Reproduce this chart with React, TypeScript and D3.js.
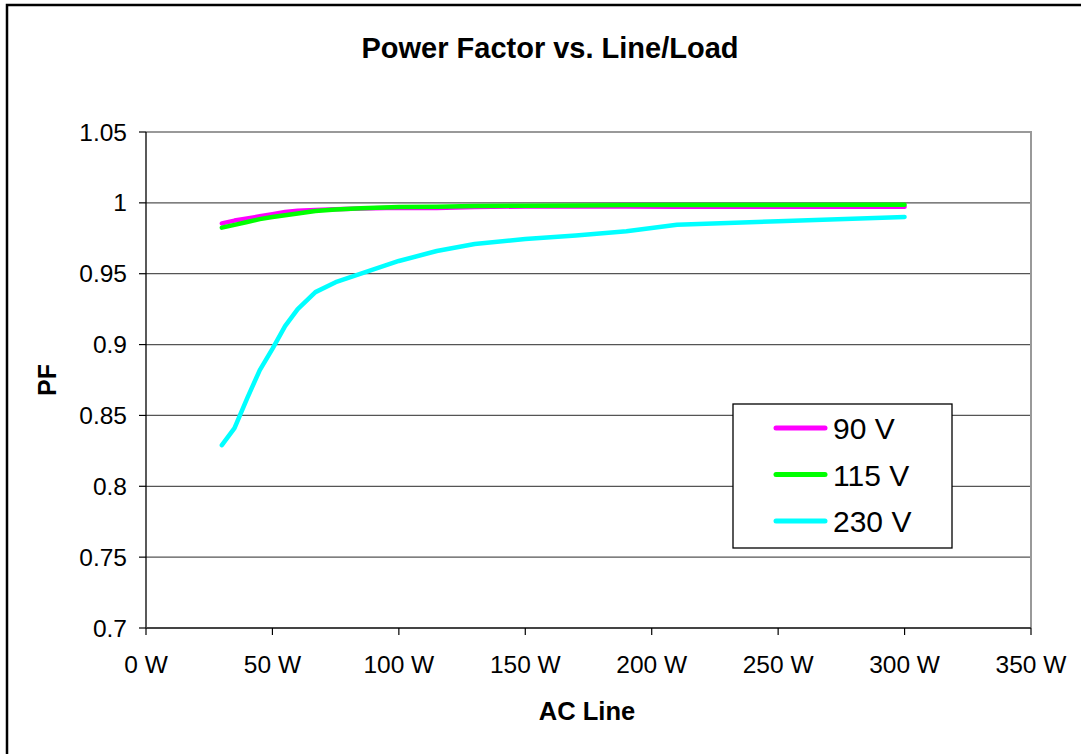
import * as d3 from 'd3'

const loadW = [30, 35, 40, 45, 50, 55, 60, 67, 75, 85, 100, 115, 130, 150, 170, 190, 210, 250, 300]
const pf90 = [0.9855, 0.9875, 0.989, 0.9905, 0.992, 0.9935, 0.9945, 0.995, 0.9955, 0.996, 0.9965, 0.9963, 0.997, 0.9975, 0.9975, 0.9974, 0.9973, 0.9973, 0.9973]
const pf115 = [0.9825, 0.9845, 0.9865, 0.9885, 0.99, 0.9913, 0.9925, 0.9942, 0.9953, 0.9962, 0.997, 0.9972, 0.9977, 0.998, 0.9982, 0.9984, 0.9985, 0.9985, 0.9986]
const pf230 = [0.829, 0.841, 0.862, 0.882, 0.897, 0.913, 0.925, 0.937, 0.944, 0.950, 0.959, 0.966, 0.971, 0.9745, 0.977, 0.980, 0.9845, 0.987, 0.990]

const seriesNames = ['90 V', '115 V', '230 V']
const seriesColors = ['#ff00ff', '#00ff00', '#00ffff']
const xTicks = [0, 50, 100, 150, 200, 250, 300, 350]
const yTicks = [0.7, 0.75, 0.8, 0.85, 0.9, 0.95, 1, 1.05]

const W = 1081
const H = 754
const plot = { left: 146, right: 1031, top: 132, bottom: 628 }
const font = '"Liberation Sans", Arial, sans-serif'

export default function App() {
  const x = d3.scaleLinear().domain([0, 350]).range([plot.left, plot.right])
  const y = d3.scaleLinear().domain([0.7, 1.05]).range([plot.bottom, plot.top])

  const series = [pf90, pf115, pf230]
  const line = d3.line<number>()
    .x((_, i) => x(loadW[i]))
    .y(d => y(d))

  const legend = { x: 733, y: 404, w: 219, h: 144 }

  return (
    <div style={{ position: 'absolute', left: 0, top: 0 }}>
      <svg width={W} height={H} style={{ display: 'block', fontFamily: font }}>
        <rect x={0} y={0} width={W} height={H} fill="#fff" />
        <rect x={7} y={5} width={W + 20} height={H + 20} fill="none" stroke="#000" strokeWidth={2.5} />

        <text x={550} y={58} textAnchor="middle" fontSize={29} fontWeight="bold">
          Power Factor vs. Line/Load
        </text>

        {/* gridlines */}
        {yTicks.slice(1, -1).map(t => (
          <line key={t} x1={plot.left} x2={plot.right} y1={y(t)} y2={y(t)} stroke="#555" strokeWidth={1.3} />
        ))}

        {/* plot frame top/right */}
        <path
          d={`M${plot.left},${plot.top}H${plot.right}V${plot.bottom}`}
          fill="none"
          stroke="#999"
          strokeWidth={2}
        />

        {/* y axis */}
        <line x1={plot.left} x2={plot.left} y1={plot.top} y2={plot.bottom} stroke="#000" strokeWidth={1.3} />
        {yTicks.map(t => (
          <g key={t}>
            <line x1={plot.left - 7} x2={plot.left} y1={y(t)} y2={y(t)} stroke="#000" strokeWidth={1.2} />
            <text x={127} y={y(t) + 8.5} textAnchor="end" fontSize={24.5}>
              {d3.format('')(t)}
            </text>
          </g>
        ))}

        {/* x axis */}
        <line x1={plot.left} x2={plot.right} y1={plot.bottom} y2={plot.bottom} stroke="#444" strokeWidth={2} />
        {xTicks.map(t => (
          <g key={t}>
            <line x1={x(t)} x2={x(t)} y1={plot.bottom} y2={plot.bottom + 7} stroke="#000" strokeWidth={1.2} />
            <text x={x(t)} y={673} textAnchor="middle" fontSize={24.5}>
              {`${t} W`}
            </text>
          </g>
        ))}

        {/* series */}
        {series.map((s, i) => (
          <path
            key={seriesNames[i]}
            d={line(s) ?? ''}
            fill="none"
            stroke={seriesColors[i]}
            strokeWidth={4.5}
            strokeLinecap="round"
            strokeLinejoin="round"
          />
        ))}

        <text x={587} y={720} textAnchor="middle" fontSize={25.5} fontWeight="bold">
          AC Line
        </text>
        <text
          transform="translate(56,380) rotate(-90)"
          textAnchor="middle"
          fontSize={25}
          fontWeight="bold"
        >
          PF
        </text>

        {/* legend */}
        <rect x={legend.x} y={legend.y} width={legend.w} height={legend.h} fill="#fff" stroke="#000" strokeWidth={1.3} />
        {seriesNames.map((n, i) => {
          const ly = 428 + i * 46.5
          return (
            <g key={n}>
              <line x1={776} x2={825} y1={ly} y2={ly} stroke={seriesColors[i]} strokeWidth={5} strokeLinecap="round" />
              <text x={833} y={ly + 11} fontSize={30}>
                {n}
              </text>
            </g>
          )
        })}
      </svg>
    </div>
  )
}
